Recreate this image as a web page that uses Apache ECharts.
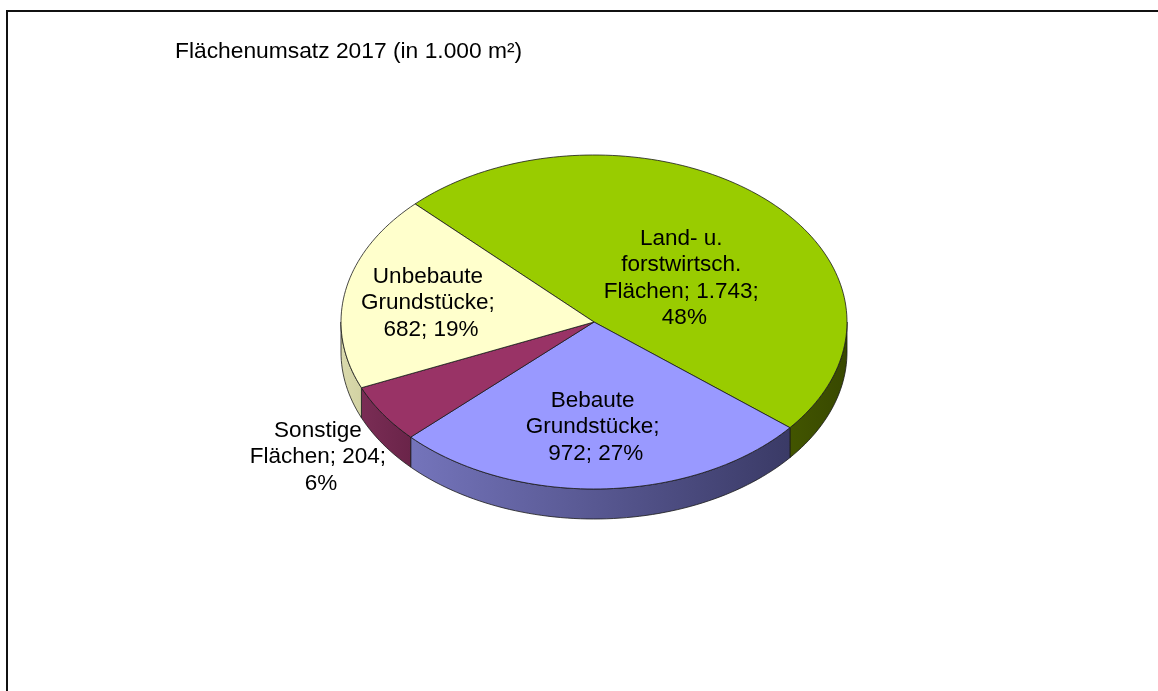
<!DOCTYPE html>
<html>
<head>
<meta charset="utf-8">
<script src="https://cdn.jsdelivr.net/npm/echarts@6/dist/echarts.min.js"></script>
<style>
  html, body { margin: 0; padding: 0; background: #fff; }
  #chart { width: 1158px; height: 691px; }
</style>
</head>
<body>
<div id="chart"></div>
<script>
// data
const categories = ['Land- u. forstwirtsch. Flächen', 'Bebaute Grundstücke', 'Sonstige Flächen', 'Unbebaute Grundstücke']
const values = [1743, 972, 204, 682]
const titleText = 'Flächenumsatz 2017 (in 1.000 m²)'

// look
const topColors = ['#99cc00', '#9999ff', '#993366', '#ffffcc']
const sideColors = [
    ['#425500', '#384800'],
    ['#7474bb', '#3a3a66'],
    ['#7a2d55', '#6a2449'],
    ['#dadaad', '#d2d2a3'],
]
// label placement: fraction of radius along the mid angle, plus a small nudge
const labelRadius = [0.45, 0.61, 1.33, 0.66]
const labelNudge = [[14, 12], [-4, 3], [8, 13], [1, 2]]
const pie = { cx: 594, cy: 322, rx: 253, ry: 167, depth: 30, startAngle: -45 }
const font = 'Liberation Sans, Arial, sans-serif'

const total = values.reduce((a, b) => a + b, 0)
const fmt = v => String(v).replace(/\B(?=(\d{3})+(?!\d))/g, '.')

function pt(deg, dy) {
    let r = deg * Math.PI / 180
    return [pie.cx + pie.rx * Math.sin(r), pie.cy - pie.ry * Math.cos(r) + (dy || 0)]
}
function arc(a0, a1, dy) {
    let pts = []
    let n = Math.max(2, Math.ceil(Math.abs(a1 - a0) / 1.5))
    for (let k = 0; k <= n; k++) pts.push(pt(a0 + (a1 - a0) * k / n, dy))
    return pts
}

function renderItem(params, api) {
    let i = params.dataIndex
    let before = 0
    for (let k = 0; k < i; k++) before += values[k]
    let a0 = pie.startAngle + before / total * 360
    let a1 = a0 + values[i] / total * 360
    let children = []
    // front wall (visible between 90 and 270 deg)
    let s = Math.max(a0, 90), e = Math.min(a1, 270)
    if (e > s) {
        let top = arc(s, e, 0)
        let bot = arc(e, s, pie.depth)
        children.push({
            type: 'polygon',
            shape: { points: top.concat(bot) },
            style: {
                fill: new echarts.graphic.LinearGradient(0, 0, 1, 0, [
                    { offset: 0, color: sideColors[i][0] },
                    { offset: 1, color: sideColors[i][1] },
                ]),
                stroke: '#1a1a1a', lineWidth: 0.8,
            },
        })
    }
    // top face
    children.push({
        type: 'polygon',
        shape: { points: [[pie.cx, pie.cy]].concat(arc(a0, a1, 0)) },
        style: { fill: topColors[i], stroke: '#1a1a1a', lineWidth: 0.8 },
    })
    // label
    let mid = (a0 + a1) / 2
    let r = mid * Math.PI / 180
    let f = labelRadius[i]
    let pct = Math.round(values[i] / total * 100)
    children.push({
        type: 'text',
        z2: 10,
        style: {
            text: categories[i] + '; ' + fmt(api.value(0)) + '; ' + pct + '%',
            x: pie.cx + pie.rx * f * Math.sin(r) + labelNudge[i][0],
            y: pie.cy - pie.ry * f * Math.cos(r) + labelNudge[i][1],
            align: 'center',
            verticalAlign: 'middle',
            width: 180,
            overflow: 'break',
            fontSize: 22.5,
            lineHeight: 26.5,
            fontFamily: font,
            fill: '#000',
        },
    })
    return { type: 'group', children: children }
}

let chart = echarts.init(document.getElementById('chart'))
chart.setOption({
    animation: false,
    title: {
        text: titleText,
        left: 175,
        top: 40,
        padding: 0,
        textStyle: { fontSize: 22.8, fontWeight: 'normal', color: '#000', fontFamily: font },
    },
    graphic: [{
        type: 'rect',
        shape: { x: 7, y: 11, width: 1200, height: 800 },
        style: { fill: 'none', stroke: '#111', lineWidth: 2 },
        silent: true,
    }],
    series: [{
        type: 'custom',
        coordinateSystem: 'none',
        renderItem: renderItem,
        data: values.map((v, i) => ({ name: categories[i], value: [v] })),
    }],
})
</script>
</body>
</html>
